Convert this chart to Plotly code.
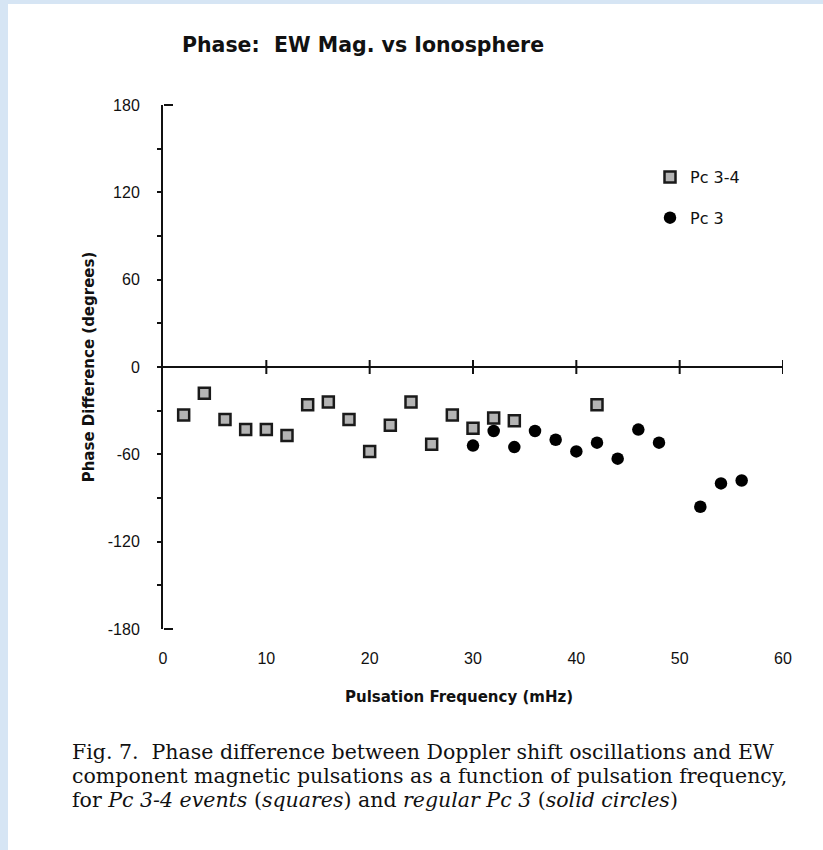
import plotly.graph_objects as go

# ---- data ----
sq_freq = [2, 4, 6, 8, 10, 12, 14, 16, 18, 20, 22, 24, 26, 28, 30, 32, 34, 42]
sq_phase = [-33, -18, -36, -43, -43, -47, -26, -24, -36, -58, -40, -24, -53, -33, -42, -35, -37, -26]

ci_freq = [30, 32, 34, 36, 38, 40, 42, 44, 46, 48, 52, 54, 56]
ci_phase = [-54, -44, -55, -44, -50, -58, -52, -63, -43, -52, -96, -80, -78]

x_ticks = [0, 10, 20, 30, 40, 50, 60]
y_ticks = [-180, -120, -60, 0, 60, 120, 180]
y_minor_step = 30

caption_lines = [
    "Fig. 7.  Phase difference between Doppler shift oscillations and EW",
    "component magnetic pulsations as a function of pulsation frequency,",
    "for <i>Pc 3-4 events</i> (<i>squares</i>) and <i>regular Pc 3</i> (<i>solid circles</i>)",
]

W, H = 823, 850
L, R, T, B = 163, 40, 105, 221
pw, ph = W - L - R, H - T - B

def px_x(p):
    return (p - L) / pw

def px_y(p):
    return 1 - (p - T) / ph

INK = "#111111"
SANS = "Liberation Sans, Arial"
WIDE = "DejaVu Sans, Verdana"

y_lo, y_hi = y_ticks[0], y_ticks[-1]
y_inner_ticks = list(range(y_lo + y_minor_step, y_hi, y_minor_step))

fig = go.Figure()

fig.add_trace(go.Scatter(
    x=sq_freq, y=sq_phase, mode="markers", name="Pc 3-4",
    legendgroup="a",
    marker=dict(symbol="square", size=11, color="#b4b4b4",
                line=dict(color="#1a1a1a", width=2.5)),
))
fig.add_trace(go.Scatter(
    x=ci_freq, y=ci_phase, mode="markers", name="Pc 3",
    legendgroup="b",
    marker=dict(symbol="circle", size=12.5, color="#000000",
                line=dict(color="#000000", width=0)),
))
# tick marks crossing the zero line
fig.add_trace(go.Scatter(
    x=x_ticks[1:], y=[0] * (len(x_ticks) - 1), mode="markers",
    showlegend=False, hoverinfo="skip",
    marker=dict(symbol="line-ns", size=10, line=dict(color=INK, width=2)),
))
# invisible carriers for the tick-only overlay axes
for ya in ("y2", "y3"):
    fig.add_trace(go.Scatter(
        x=[x_ticks[0], x_ticks[0]], y=[y_lo, y_hi], yaxis=ya, mode="markers",
        marker=dict(opacity=0), showlegend=False, hoverinfo="skip"))

axis_font = dict(family=SANS, size=16, color=INK)

fig.update_xaxes(
    range=[x_ticks[0], x_ticks[-1]], tickvals=x_ticks, ticktext=[str(v) for v in x_ticks],
    showline=False, showgrid=False, zeroline=False,
    ticks="outside", ticklen=15, tickcolor="rgba(0,0,0,0)",
    tickfont=axis_font,
)
fig.update_layout(
    yaxis=dict(
        range=[y_lo, y_hi], tickvals=y_ticks, ticktext=[str(v) for v in y_ticks],
        showline=True, linecolor=INK, linewidth=2,
        showgrid=False, zeroline=True, zerolinecolor=INK, zerolinewidth=2,
        ticks="outside", ticklen=5, tickcolor="rgba(0,0,0,0)",
        ticklabelstandoff=13,
        tickfont=axis_font,
        title=dict(text="<b>Phase Difference (degrees)</b>",
                   font=dict(family=WIDE, size=15, color=INK),
                   standoff=10),
    ),
    yaxis2=dict(
        overlaying="y", anchor="x", side="left", range=[y_lo, y_hi],
        tickvals=y_inner_ticks, ticks="outside", ticklen=5, tickwidth=1.5,
        tickcolor=INK, showticklabels=False, showline=False, showgrid=False, zeroline=False,
    ),
    yaxis3=dict(
        overlaying="y", anchor="free", position=0, side="right", range=[y_lo, y_hi],
        tickvals=[y_lo, y_hi], ticks="outside", ticklen=9, tickwidth=2,
        tickcolor=INK, showticklabels=False, showline=False, showgrid=False, zeroline=False,
    ),
)

fig.update_layout(
    width=W, height=H,
    margin=dict(l=L, r=R, t=T, b=B),
    paper_bgcolor="#d6e5f4",
    plot_bgcolor="rgba(0,0,0,0)",
    showlegend=True,
    legend=dict(x=px_x(650), y=px_y(160), xanchor="left", yanchor="top",
                bgcolor="rgba(0,0,0,0)", tracegroupgap=17,
                font=dict(family=WIDE, size=16, color=INK),
                itemwidth=30),
    title=dict(text="<b>Phase:  EW Mag. vs Ionosphere</b>",
               x=363 / W, xref="container", xanchor="center",
               y=1 - 45 / H, yref="container", yanchor="middle",
               font=dict(family=WIDE, size=20.5, color=INK)),
    shapes=[dict(type="rect", xref="paper", yref="paper", layer="below",
                 x0=px_x(8), x1=px_x(W + 5), y0=px_y(H + 5), y1=px_y(4),
                 fillcolor="white", line=dict(width=0))],
)

annotations = [
    dict(text="<b>Pulsation Frequency (mHz)</b>", xref="paper", yref="paper",
         x=px_x(459), y=px_y(697), xanchor="center", yanchor="middle",
         showarrow=False, font=dict(family=WIDE, size=15, color=INK)),
]
for i, line in enumerate(caption_lines):
    annotations.append(dict(
        text=line, xref="paper", yref="paper", x=px_x(70), y=px_y(752 + 24 * i),
        xanchor="left", yanchor="middle", align="left", showarrow=False,
        font=dict(family="DejaVu Serif, Liberation Serif", size=20.5, color=INK)))
fig.update_layout(annotations=annotations)

fig.write_html("out.html")
